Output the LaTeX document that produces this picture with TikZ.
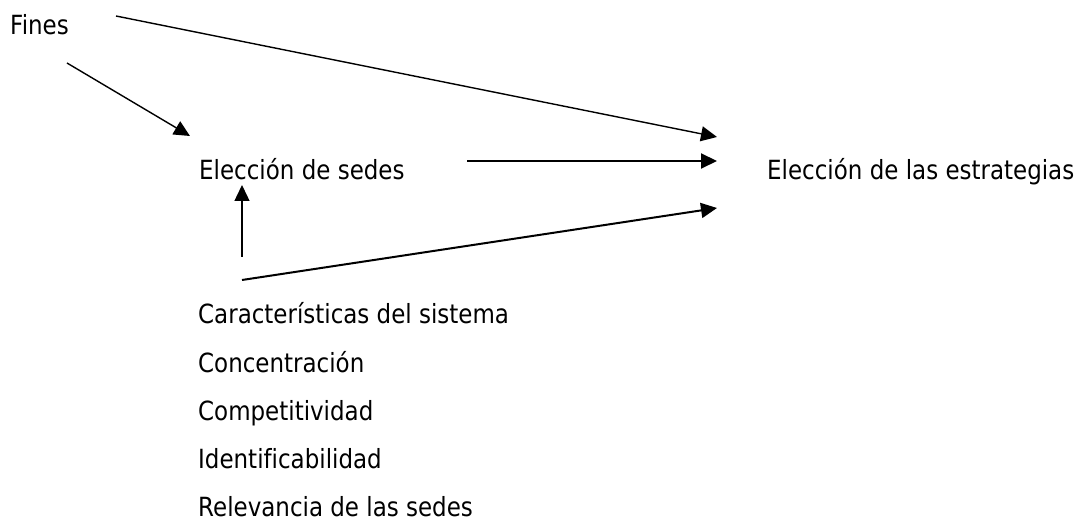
\documentclass[tikz,border=0pt]{standalone}
\usepackage{fontspec}
\setmainfont{DejaVu Sans}[FakeStretch=0.87,Ligatures=NoCommon]
\usepackage{tikz}
\usetikzlibrary{arrows.meta}
\tikzstyle{lbl} = [anchor=base west, inner sep=0pt, font=\fontsize{26.4}{30}\selectfont]
\tikzstyle{arrow} = [line width=1.4pt,-{Triangle[length=16pt,width=15pt]}]
\tikzstyle{tarrow} = [line width=2pt,-{Triangle[length=16pt,width=15pt]}]

\begin{document}
\begin{tikzpicture}[x=1pt,y=-1pt]
\useasboundingbox (0,0) rectangle (1080,521);

\node (fines) [lbl] at (10,35) {Fines};
\node (sedes) [lbl] at (199,179.3) {Elección de sedes};
\node (estrategias) [lbl] at (767,179.3) {Elección de las estrategias};

\node (caract) [lbl] at (198,324) {Características del sistema};
\node (conc) [lbl] at (198,372.2) {Concentración};
\node (comp) [lbl] at (198,420.3) {Competitividad};
\node (ident) [lbl] at (198,468.5) {Identificabilidad};
\node (relev) [lbl] at (198,516.7) {Relevancia de las sedes};

\coordinate (f1) at (116,16);
\coordinate (f2) at (67,63);
\coordinate (s1) at (190,136);
\coordinate (s2) at (467,161);
\coordinate (s3) at (242,185);
\coordinate (e1) at (717,137);
\coordinate (e2) at (717,161);
\coordinate (e3) at (717,208);
\coordinate (c1) at (242,257);
\coordinate (c2) at (242,280);

\draw [arrow] (f1) -- (e1);
\draw [arrow] (f2) -- (s1);

\draw [tarrow] (s2) -- (e2);

\draw [arrow] (c1) -- (s3);
\draw [tarrow] (c2) -- (e3);

\end{tikzpicture}
\end{document}
